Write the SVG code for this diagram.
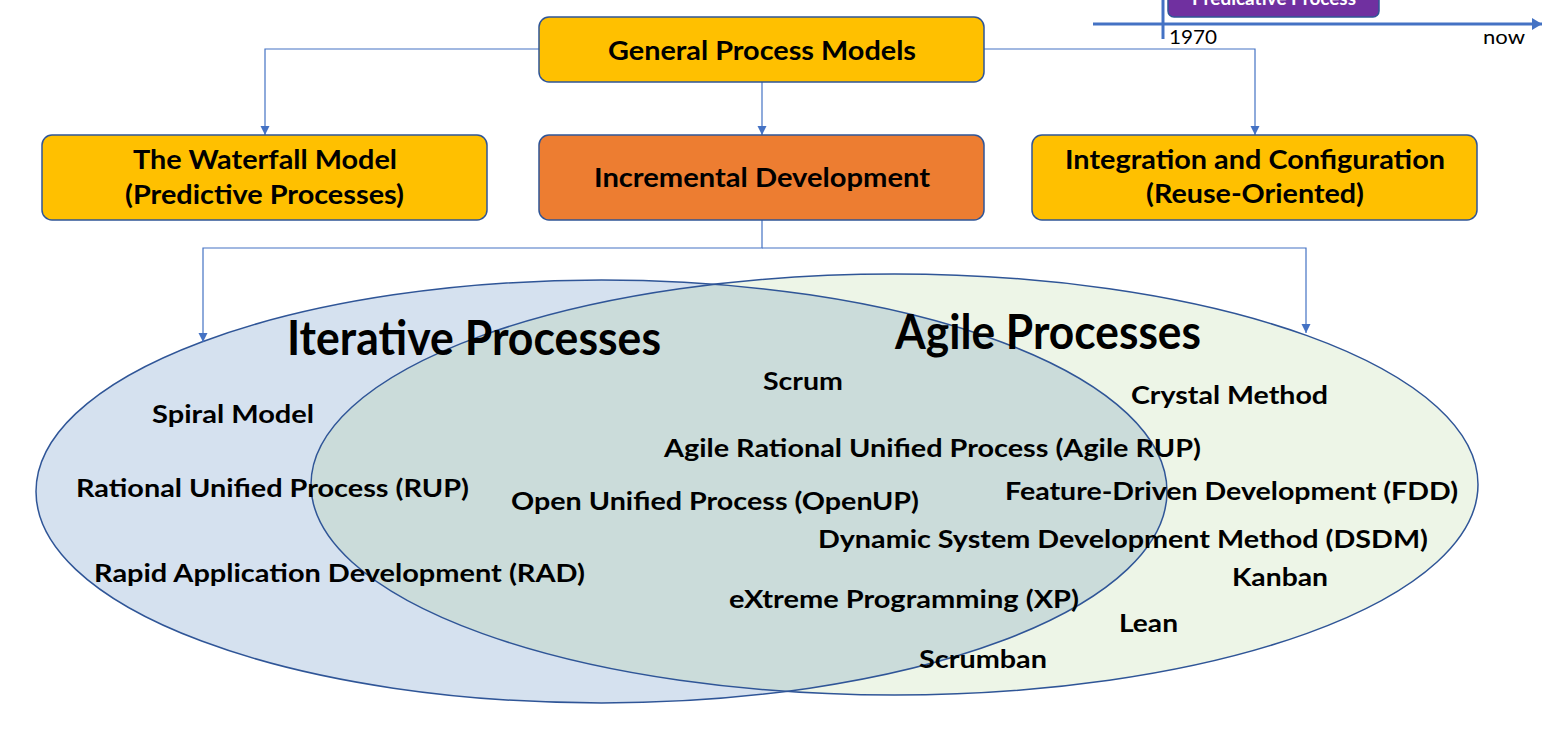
<svg xmlns="http://www.w3.org/2000/svg" width="1543" height="731" viewBox="0 0 1543 731">
<style>
  text { font-family: Lato, "Open Sans", "DejaVu Sans", sans-serif; font-weight: bold; fill: #000; }
  .box { stroke: #2F5597; stroke-width: 1.5; }
  .gold { fill: #FFC000; }
  .orange { fill: #ED7D31; }
  .lbl { font-size: 26px; text-anchor: middle; }
  .item { font-size: 24px; }
  .big { font-size: 48px; }
  .conn { fill: none; stroke: #4472C4; stroke-width: 1.2; }
  .ell { stroke: #2F5597; stroke-width: 1.5; fill: none; }
</style>
<defs>
  <marker id="arr" viewBox="0 0 10 10" refX="10" refY="5" markerWidth="9" markerHeight="10" markerUnits="userSpaceOnUse" orient="auto">
    <path d="M0,0 L10,5 L0,10 z" fill="#4472C4"/>
  </marker>
  <marker id="tarr" viewBox="0 0 10 12" refX="10" refY="6" markerWidth="11" markerHeight="12" markerUnits="userSpaceOnUse" orient="auto">
    <path d="M0,0 L10,6 L0,12 z" fill="#4472C4"/>
  </marker>
</defs>
<rect width="1543" height="731" fill="#fff"/>

<g id="venn">
  <ellipse cx="601.5" cy="491.5" rx="565.5" ry="211.5" fill="#D5E1EF"/>
  <ellipse cx="894.5" cy="484.5" rx="583.5" ry="210.5" fill="rgb(160,203,129)" fill-opacity="0.19"/>
  <ellipse class="ell" cx="601.5" cy="491.5" rx="565.5" ry="211.5"/>
  <ellipse class="ell" cx="894.5" cy="484.5" rx="583.5" ry="210.5"/>
</g>

<g id="timeline">
  <rect x="1168" y="-20" width="211" height="37" rx="6" fill="#7030A0" stroke="#2F5597" stroke-width="1.5"/>
  <text x="1274" y="5" font-size="18" text-anchor="middle" textLength="164" lengthAdjust="spacingAndGlyphs" style="fill:#fff">Predicative Process</text>
  <line x1="1163" y1="0" x2="1163" y2="39" stroke="#4472C4" stroke-width="3"/>
  <line x1="1093" y1="24" x2="1542" y2="24" stroke="#4472C4" stroke-width="3" marker-end="url(#tarr)"/>
  <text x="1169" y="44" font-size="19" textLength="48" lengthAdjust="spacingAndGlyphs" style="font-weight:normal">1970</text>
  <text x="1483" y="44" font-size="19" textLength="42" lengthAdjust="spacingAndGlyphs" style="font-weight:normal">now</text>
</g>

<g id="connectors">
  <path class="conn" d="M539,49 H265 V135" marker-end="url(#arr)"/>
  <path class="conn" d="M762,82 V135" marker-end="url(#arr)"/>
  <path class="conn" d="M984,49 H1255 V135" marker-end="url(#arr)"/>
  <path class="conn" d="M762,220 V248 H203 V342" marker-end="url(#arr)"/>
  <path class="conn" d="M762,248 H1306 V333" marker-end="url(#arr)"/>
</g>

<g id="general-process-models">
  <rect class="box gold" x="539" y="17" width="445" height="65" rx="10"/>
  <text class="lbl" x="762" y="60" textLength="308" lengthAdjust="spacingAndGlyphs">General Process Models</text>
</g>
<g id="waterfall-model">
  <rect class="box gold" x="42" y="135" width="445" height="85" rx="10"/>
  <text class="lbl" x="265" y="169" textLength="264" lengthAdjust="spacingAndGlyphs">The Waterfall Model</text>
  <text class="lbl" x="264.5" y="204" textLength="279" lengthAdjust="spacingAndGlyphs">(Predictive Processes)</text>
</g>
<g id="incremental-development">
  <rect class="box orange" x="539" y="135" width="445" height="85" rx="10"/>
  <text class="lbl" x="762" y="187" textLength="336" lengthAdjust="spacingAndGlyphs">Incremental Development</text>
</g>
<g id="integration-configuration">
  <rect class="box gold" x="1032" y="135" width="445" height="85" rx="10"/>
  <text class="lbl" x="1255" y="169" textLength="380" lengthAdjust="spacingAndGlyphs">Integration and Configuration</text>
  <text class="lbl" x="1255" y="203" textLength="218" lengthAdjust="spacingAndGlyphs">(Reuse-Oriented)</text>
</g>

<g id="iterative-processes">
  <text class="big" x="287" y="355" textLength="374" lengthAdjust="spacingAndGlyphs">Iterative Processes</text>
</g>
<g id="agile-processes">
  <text class="big" x="895" y="349" textLength="306" lengthAdjust="spacingAndGlyphs">Agile Processes</text>
</g>
<g id="items">
  <text class="item" x="763" y="390" textLength="80" lengthAdjust="spacingAndGlyphs">Scrum</text>
  <text class="item" x="152" y="423" textLength="162" lengthAdjust="spacingAndGlyphs">Spiral Model</text>
  <text class="item" x="1131" y="404" textLength="197" lengthAdjust="spacingAndGlyphs">Crystal Method</text>
  <text class="item" x="664" y="457" textLength="537" lengthAdjust="spacingAndGlyphs">Agile Rational Unified Process (Agile RUP)</text>
  <text class="item" x="76" y="497" textLength="393" lengthAdjust="spacingAndGlyphs">Rational Unified Process (RUP)</text>
  <text class="item" x="511" y="510" textLength="408" lengthAdjust="spacingAndGlyphs">Open Unified Process (OpenUP)</text>
  <text class="item" x="1005" y="500" textLength="453" lengthAdjust="spacingAndGlyphs">Feature-Driven Development (FDD)</text>
  <text class="item" x="818" y="548" textLength="610" lengthAdjust="spacingAndGlyphs">Dynamic System Development Method (DSDM)</text>
  <text class="item" x="1232" y="586" textLength="96" lengthAdjust="spacingAndGlyphs">Kanban</text>
  <text class="item" x="94" y="582" textLength="491" lengthAdjust="spacingAndGlyphs">Rapid Application Development (RAD)</text>
  <text class="item" x="729" y="608" textLength="350" lengthAdjust="spacingAndGlyphs">eXtreme Programming (XP)</text>
  <text class="item" x="1119" y="632" textLength="59" lengthAdjust="spacingAndGlyphs">Lean</text>
  <text class="item" x="919" y="668" textLength="128" lengthAdjust="spacingAndGlyphs">Scrumban</text>
</g>
</svg>
